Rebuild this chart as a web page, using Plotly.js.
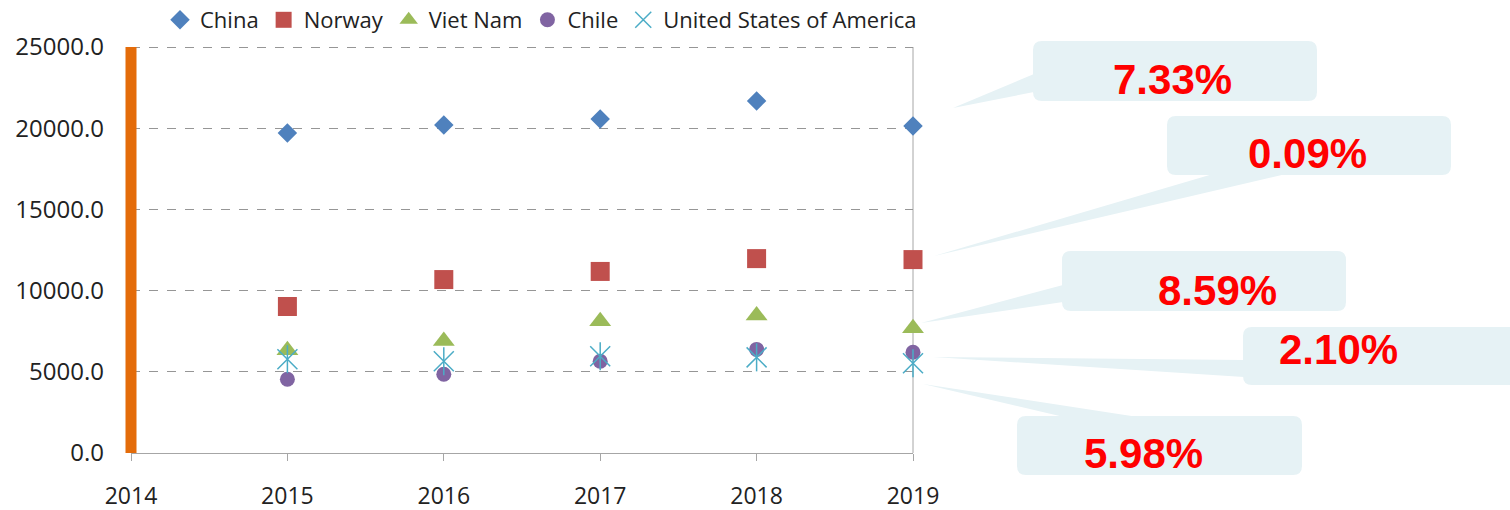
<!DOCTYPE html>
<html>
<head>
<meta charset="utf-8">
<script src="https://cdn.plot.ly/plotly-3.0.1.min.js"></script>
<style>html,body{margin:0;padding:0;background:#fff;}#chart{width:1510px;height:510px;}</style>
</head>
<body>
<div id="chart"></div>
<script>
// ---- data ----
const years = [2015, 2016, 2017, 2018, 2019];
const china = [19700, 20200, 20570, 21680, 20130];
const norway = [9020, 10680, 11180, 11970, 11910];
const vietNam = [6320, 6900, 8120, 8460, 7680];
const chile = [4545, 4850, 5650, 6380, 6200];
const usa = [5775, 5650, 5960, 5890, 5530];
const seriesNames = ['China', 'Norway', 'Viet Nam', 'Chile', 'United States of America'];
const growthLabels = ['7.33%', '0.09%', '8.59%', '2.10%', '5.98%'];
const xTicks = [2014, 2015, 2016, 2017, 2018, 2019];
const yTicks = [0, 5000, 10000, 15000, 20000, 25000];

// ---- layout geometry (pixels) ----
const W = 1510, H = 510;
const PL = 131, PR = 913, PT = 47, PB = 453;
const pw = PR - PL, ph = PB - PT;
const fx = px => (px - PL) / pw;
const fy = py => (PB - py) / ph;
const pt = (px, py) => fx(px).toFixed(5) + ',' + fy(py).toFixed(5);

const labelFont = "'Open Sans', 'Noto Sans', sans-serif";
const calloutFill = 'rgb(230,242,245)';

function roundRect(x0, y0, x1, y1, r) {
  return 'M' + pt(x0 + r, y0) + ' L' + pt(x1 - r, y0) + ' Q' + pt(x1, y0) + ' ' + pt(x1, y0 + r) +
    ' L' + pt(x1, y1 - r) + ' Q' + pt(x1, y1) + ' ' + pt(x1 - r, y1) +
    ' L' + pt(x0 + r, y1) + ' Q' + pt(x0, y1) + ' ' + pt(x0, y1 - r) +
    ' L' + pt(x0, y0 + r) + ' Q' + pt(x0, y0) + ' ' + pt(x0 + r, y0) + ' Z';
}
function tri(a, b, c) {
  return 'M' + pt(a[0], a[1]) + ' L' + pt(b[0], b[1]) + ' L' + pt(c[0], c[1]) + ' Z';
}

// callout boxes: [x0,y0,x1,y1], wedge [base1, base2, tip], text center
const callouts = [
  {box: [1033, 41, 1317, 101], wedge: [[1034, 74], [1034, 92], [953, 108]], tc: [1172, 79]},
  {box: [1167, 116, 1451, 175], wedge: [[1213, 174], [1286, 174], [934, 256]], tc: [1307, 153]},
  {box: [1062, 251, 1346, 311], wedge: [[1063, 285], [1063, 302], [921, 323]], tc: [1217, 290]},
  {box: [1243, 327, 1530, 385], wedge: [[1244, 360], [1244, 377], [933, 357]], tc: [1338, 349]},
  {box: [1017, 416, 1302, 475], wedge: [[1064, 417], [1138, 417], [923, 384]], tc: [1143, 453]}
];

const shapes = [];
const annotations = [];

// top dashed gridline (edge gridline is not drawn by the axis)
shapes.push({type: 'line', xref: 'paper', yref: 'paper', x0: 0, x1: 1, y0: fy(47.5), y1: fy(47.5),
  line: {color: '#969696', width: 1, dash: 'dash'}, layer: 'above'});
// right border of plot
shapes.push({type: 'line', xref: 'paper', yref: 'paper', x0: 1, x1: 1, y0: 0, y1: 1,
  line: {color: '#A6A6A6', width: 1}, layer: 'below'});
// orange left bar
shapes.push({type: 'line', xref: 'paper', yref: 'paper', x0: 0, x1: 0, y0: 0, y1: 1,
  line: {color: '#E46C0A', width: 11}, layer: 'above'});

callouts.forEach((c, i) => {
  shapes.push({type: 'path', xref: 'paper', yref: 'paper', path: roundRect(c.box[0], c.box[1], c.box[2], c.box[3], 9),
    fillcolor: calloutFill, line: {width: 0}, layer: 'above'});
  shapes.push({type: 'path', xref: 'paper', yref: 'paper', path: tri(c.wedge[0], c.wedge[1], c.wedge[2]),
    fillcolor: calloutFill, line: {width: 0}, layer: 'above'});
  annotations.push({xref: 'paper', yref: 'paper', x: fx(c.tc[0]), y: fy(c.tc[1]), xanchor: 'center', yanchor: 'middle',
    text: '<b>' + growthLabels[i] + '</b>', showarrow: false,
    font: {family: "'Liberation Sans', Arial, sans-serif", size: 42, color: '#FF0000'}});
});

const traces = [
  {x: years, y: china, name: seriesNames[0], type: 'scatter', mode: 'markers', cliponaxis: false,
    marker: {symbol: 'diamond', size: 15, color: '#4F81BD'}},
  {x: years, y: norway, name: seriesNames[1], type: 'scatter', mode: 'markers', cliponaxis: false,
    marker: {symbol: 'square', size: 19, color: '#C0504D'}},
  {x: years, y: vietNam, name: seriesNames[2], type: 'scatter', mode: 'markers', cliponaxis: false,
    marker: {symbol: 'triangle-up', size: 19, color: '#9BBB59'}},
  {x: years, y: chile, name: seriesNames[3], type: 'scatter', mode: 'markers', cliponaxis: false,
    marker: {symbol: 'circle', size: 15, color: '#8064A2'}},
  {x: years, y: usa, name: seriesNames[4], type: 'scatter', mode: 'markers', cliponaxis: false,
    marker: {symbol: 'x-thin-open', size: 20, color: '#4BACC6', line: {width: 1.5, color: '#4BACC6'}}},
  {x: years, y: usa, name: seriesNames[4], type: 'scatter', mode: 'markers', showlegend: false, cliponaxis: false,
    marker: {symbol: 'line-ns-open', size: 20, color: '#4BACC6', line: {width: 1.5, color: '#4BACC6'}}}
];

const layout = {
  width: W, height: H,
  margin: {l: PL, r: W - PR, t: PT, b: H - PB, pad: 0, autoexpand: false},
  paper_bgcolor: '#ffffff', plot_bgcolor: 'rgba(0,0,0,0)',
  showlegend: true,
  legend: {orientation: 'h', x: fx(160), y: fy(-1), xanchor: 'left', yanchor: 'top',
    font: {family: labelFont, size: 22, color: '#222'}, bgcolor: 'rgba(0,0,0,0)', itemclick: false},
  xaxis: {range: [xTicks[0], xTicks[xTicks.length - 1]], tickvals: xTicks, ticktext: xTicks.map(String),
    showgrid: false, zeroline: false, showline: true, linecolor: '#A6A6A6', linewidth: 1,
    ticks: 'outside', ticklen: 7, tickcolor: '#A6A6A6', ticklabelstandoff: 15,
    tickfont: {family: labelFont, size: 23, color: '#222'}},
  yaxis: {range: [yTicks[0], yTicks[yTicks.length - 1]], tickvals: yTicks, ticktext: yTicks.map(v => v.toFixed(1)),
    showgrid: true, gridcolor: '#969696', griddash: 'dash', gridwidth: 1, zeroline: false, showline: false,
    ticks: '', ticklabelstandoff: 26,
    tickfont: {family: labelFont, size: 24, color: '#222'}},
  shapes: shapes,
  annotations: annotations
};

Plotly.newPlot('chart', traces, layout, {staticPlot: true, displayModeBar: false});
</script>
</body>
</html>
